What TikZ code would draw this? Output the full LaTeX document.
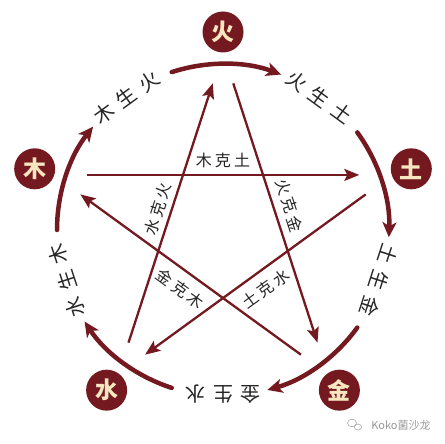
\documentclass[tikz,border=0pt]{standalone}
\usepackage{fontspec}
\newfontfamily\cjk{Noto Sans CJK SC}
\newfontfamily\cjkk[LetterSpace=20]{Noto Sans CJK SC}
\newfontfamily\cjks[LetterSpace=38]{Noto Sans CJK SC}
\usetikzlibrary{arrows.meta,calc}
\definecolor{maroon}{HTML}{74191F}
\definecolor{cream}{HTML}{F6E7C1}
\definecolor{inkc}{HTML}{262626}
\begin{document}
\begin{tikzpicture}[x=1pt,y=1pt,
  elem/.style={circle, fill=maroon, minimum size=41pt, inner sep=0pt, text=cream,
    font=\cjk\bfseries\fontsize{23}{23}\selectfont},
  sheng/.style={draw=maroon, line width=4.5pt, line cap=round,
    -{Stealth[length=15pt,width=14pt,inset=4pt]}},
  ke/.style={draw=maroon, line width=2.3pt,
    -{Stealth[length=15pt,width=12pt,inset=3pt]}},
  lab/.style={font=\cjkk\fontsize{16}{16}\selectfont, text=inkc, inner sep=6pt},
  glab/.style={font=\cjks\fontsize{20}{20}\selectfont, text=inkc, inner sep=0pt},
  wmark/.style={font=\cjk\fontsize{11}{11}\selectfont, text=gray!80, inner sep=0pt}
]
\useasboundingbox[fill=white] (0,0) rectangle (444,444);
\coordinate (O) at (223,214);

% star points
\foreach \n/\a in {huo/90, tu/18, jin/-54, shui/-126, mu/162}{
  \coordinate (\n-in) at ($(O)+(\a+4:147pt)$);
  \coordinate (\n-out) at ($(O)+(\a-4:147pt)$);
}

% control cycle
\draw[ke] (mu-out) -- node[lab, above, pos=0.5] {木克土} (tu-in);
\draw[ke] (shui-out) -- node[lab, above, sloped, pos=0.5, inner sep=5pt] {水克火} (huo-in);
\draw[ke] (huo-out) -- node[lab, above, sloped, pos=0.49, inner sep=7pt] {火克金} (jin-in);
\draw[ke] (tu-out) -- node[lab, below, sloped, pos=0.5, inner sep=9pt] {土克水} (shui-in);
\draw[ke] (jin-out) -- node[lab, below, sloped, pos=0.5, inner sep=9pt] {金克木} (mu-in);

% generation cycle arcs
\foreach \n/\a in {huo/90, tu/18, jin/-54, shui/-126, mu/162}{
  \coordinate (\n-arc) at ($(O)+(\a+18:166pt)$);
  \draw[sheng] (\n-arc) arc[start angle=\a+18, end angle=\a-20.5, radius=166pt];
}

% generation labels
\foreach \t/\a in {木生火/126, 火生土/54, 土生金/-18, 金生水/-90, 水生木/198}{
  \node[glab, rotate=\a-90] at ($(O)+(\a:164pt)$) {\t};
}

% elements
\node[elem] (huo) at ($(O)+(90:198pt)$) {火};
\node[elem] (tu) at ($(O)+(18:198pt)$) {土};
\node[elem] (jin) at ($(O)+(-54:198pt)$) {金};
\node[elem] (shui) at ($(O)+(-126:198pt)$) {水};
\node[elem] (mu) at ($(O)+(162:198pt)$) {木};

% watermark
\node[wmark] (wm) at (401,19) {Koko菌沙龙};
\draw[gray!70, line width=0.6pt] (352,21) ellipse (4.5pt and 3.8pt);
\draw[gray!70, line width=0.6pt] (358,17) ellipse (3.6pt and 3pt);
\end{tikzpicture}
\end{document}
